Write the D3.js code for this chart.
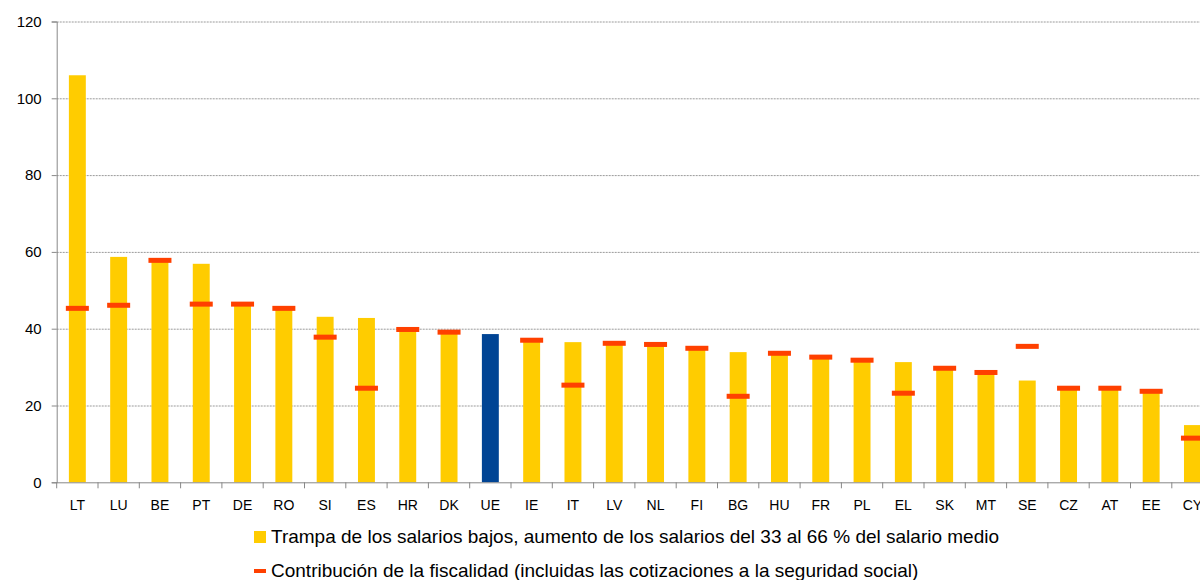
<!DOCTYPE html>
<html><head><meta charset="utf-8">
<script src="https://cdn.jsdelivr.net/npm/d3@7"></script>
<style>body{margin:0;background:#fff;overflow:hidden}svg{display:block}</style>
</head><body>
<svg id="c" width="1200" height="580"></svg>
<script>
const categories = ["LT","LU","BE","PT","DE","RO","SI","ES","HR","DK","UE","IE","IT","LV","NL","FI","BG","HU","FR","PL","EL","SK","MT","SE","CZ","AT","EE","CY"];
const trapValues = [106.0,58.7,57.5,56.9,46.0,44.9,43.1,42.8,39.5,38.9,38.6,36.8,36.5,36.0,35.7,34.7,33.9,33.3,32.3,31.5,31.3,29.4,28.3,26.5,24.2,24.2,23.4,14.9];
const taxValues = [45.3,46.1,57.8,46.4,46.4,45.3,37.8,24.5,39.8,39.1,null,37.0,25.3,36.2,35.9,34.9,22.4,33.6,32.6,31.8,23.2,29.7,28.6,35.4,24.5,24.5,23.7,11.5];
const yTicks = [0,20,40,60,80,100,120];
const legendLabels = ["Trampa de los salarios bajos, aumento de los salarios del 33 al 66 % del salario medio","Contribución de la fiscalidad (incluidas las cotizaciones a la seguridad social)"];
const highlight = "UE";

(function(){
const svg = d3.select("#c");
const font = "'Liberation Sans', Arial, sans-serif";
const mLeft = 56.7, mTop = 21.5, mBottom = 482.3, step = 41.3;
const x = d3.scaleBand().domain(categories).range([mLeft, mLeft + step*categories.length]).paddingInner(0.59).paddingOuter(0.295);
const y = d3.scaleLinear().domain([0,120]).range([mBottom, mTop]);

svg.append("g").selectAll("line").data(yTicks.filter(d=>d>0)).join("line")
  .attr("x1", mLeft).attr("x2", 1200).attr("y1", d=>y(d)+0.5).attr("y2", d=>y(d)+0.5)
  .attr("stroke", "#9a9a9a").attr("stroke-width", 1).attr("stroke-dasharray", "2,1");

const ya = svg.append("g").attr("transform", `translate(${mLeft},0)`)
  .call(d3.axisLeft(y).tickValues(yTicks).tickSize(5).tickPadding(10));
ya.select(".domain").attr("stroke", "#888");
ya.selectAll(".tick line").attr("stroke", "#888");
ya.selectAll("text").attr("font-family", font).attr("font-size", 15).attr("fill", "#000");

svg.append("g").selectAll("rect").data(categories).join("rect")
  .attr("x", d=>x(d)).attr("width", x.bandwidth())
  .attr("y", (d,i)=>y(trapValues[i])).attr("height", (d,i)=>y(0)-y(trapValues[i]))
  .attr("fill", d=> d===highlight ? "#004494" : "#FFCC00");

const xa = svg.append("g").attr("transform", `translate(0,${mBottom})`);
xa.append("line").attr("x1", mLeft).attr("x2", 1200).attr("y1", 0.5).attr("y2", 0.5).attr("stroke", "#888");
xa.selectAll("line.t").data(d3.range(categories.length+1)).join("line").attr("class","t")
  .attr("x1", i=>mLeft + i*step).attr("x2", i=>mLeft + i*step).attr("y1", 0).attr("y2", 6).attr("stroke", "#888");
xa.selectAll("text").data(categories).join("text")
  .attr("x", d=>x(d)+x.bandwidth()/2).attr("y", 28).attr("text-anchor", "middle")
  .attr("font-family", font).attr("font-size", 14).attr("fill", "#000").text(d=>d);

const mw = 23, mh = 5;
svg.append("g").selectAll("rect").data(categories.map((c,i)=>({c, v:taxValues[i]})).filter(d=>d.v!=null)).join("rect")
  .attr("x", d=>x(d.c)+x.bandwidth()/2 - mw/2).attr("width", mw)
  .attr("y", d=>y(d.v)-mh/2).attr("height", mh).attr("fill", "#FF4000");

const lg = svg.append("g");
lg.append("rect").attr("x", 254).attr("y", 531).attr("width", 12).attr("height", 12).attr("fill", "#FFCC00");
lg.append("text").attr("x", 271).attr("y", 543).attr("font-family", font).attr("font-size", 19).attr("fill", "#000").text(legendLabels[0]);
lg.append("rect").attr("x", 254).attr("y", 569).attr("width", 12).attr("height", 4).attr("fill", "#FF4000");
lg.append("text").attr("x", 271).attr("y", 577).attr("font-family", font).attr("font-size", 19).attr("fill", "#000").text(legendLabels[1]);
})();
</script>
</body></html>
